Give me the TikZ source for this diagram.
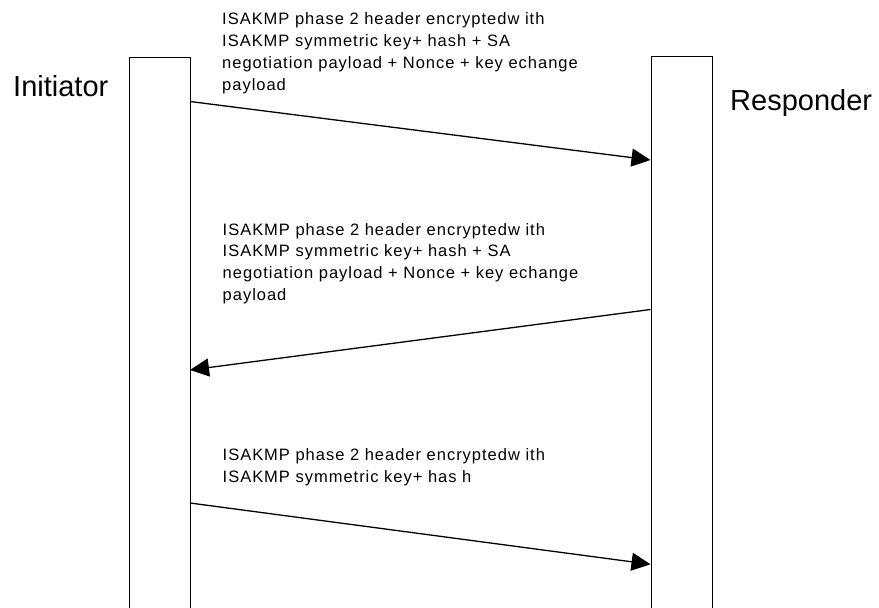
\documentclass[tikz,border=0pt]{standalone}
\usepackage{fontspec}
\setmainfont{Liberation Sans}
\newfontfamily\msgfont[LetterSpace=6]{Liberation Sans}
\usetikzlibrary{arrows.meta}
\begin{document}
\begin{tikzpicture}[x=1pt,y=-1pt,
  lifeline/.style={draw=black,line width=1.3pt,minimum width=61pt,minimum height=570pt,inner sep=0pt,anchor=north west},
  msg/.style={line width=1.3pt,-{Triangle[length=19pt,width=18pt]}},
  msgtext/.style={anchor=north west,inner sep=0pt,align=left,font=\msgfont\fontsize{16.5}{21.8}\selectfont},
  role/.style={anchor=base west,inner sep=0pt,font=\fontsize{29}{32}\selectfont}]
\useasboundingbox (0,0) rectangle (879,608);
\clip (0,0) rectangle (879,608);
\fill[white] (0,0) rectangle (879,608);

% the two parties, drawn as open-ended bars running off the bottom
\node[lifeline] (init) at (129,57) {};
\node[lifeline] (resp) at (650.5,56) {};

\node[role] (initlabel) at (13,96.7) {Initiator};
\node[role] (resplabel) at (730,110) {Responder};

% message end points on the bar edges
\coordinate (i1) at (190,101.5);
\coordinate (r1) at (650.5,160);
\coordinate (r2) at (650.5,309.5);
\coordinate (i2) at (190,370);
\coordinate (i3) at (190,503);
\coordinate (r3) at (650.5,564.3);

\draw[msg] (i1) -- (r1);
\draw[msg] (r2) -- (i2);
\draw[msg] (i3) -- (r3);

% message contents
\node[msgtext] (m1) at (222,12.5) {ISAKMP phase 2 header encryptedw ith\\ISAKMP symmetric key+ hash + SA\\negotiation payload + Nonce + key echange\\payload};
\node[msgtext] (m2) at (222.5,223) {ISAKMP phase 2 header encryptedw ith\\ISAKMP symmetric key+ hash + SA\\negotiation payload + Nonce + key echange\\payload};
\node[msgtext] (m3) at (222.5,448.7) {ISAKMP phase 2 header encryptedw ith\\ISAKMP symmetric key+ has h};
\end{tikzpicture}
\end{document}
